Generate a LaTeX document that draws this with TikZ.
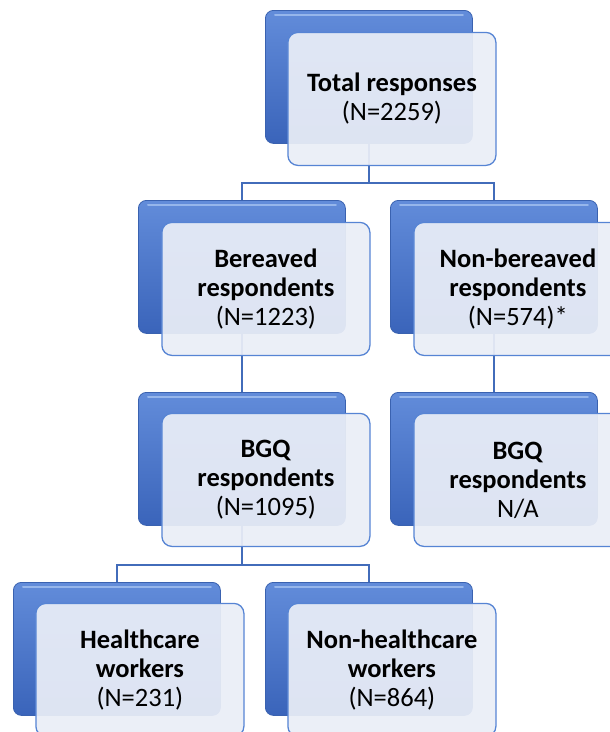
\documentclass[tikz,border=0pt]{standalone}
\usepackage{fontspec}
\setmainfont{Carlito}
\usetikzlibrary{backgrounds,calc}
\definecolor{linkblue}{RGB}{66,108,186}
\definecolor{backtop}{RGB}{98,140,218}
\definecolor{backmid}{RGB}{74,118,204}
\definecolor{backbot}{RGB}{58,100,186}
\definecolor{backedge}{RGB}{58,98,176}
\definecolor{backhi}{RGB}{150,182,235}
\definecolor{frontfill}{RGB}{234,238,247}
\definecolor{frontedge}{RGB}{86,132,212}
\tikzset{
  backbox/.style={rectangle, rounded corners=8pt, minimum width=207pt, minimum height=133pt,
    anchor=north west, top color=backtop, middle color=backmid, bottom color=backbot,
    draw=backedge, line width=0.8pt, inner sep=0pt},
  frontbox/.style={rectangle, rounded corners=10pt, minimum width=208pt, minimum height=133pt,
    fill=frontfill, fill opacity=0.93, text opacity=1, draw=frontedge, line width=1.3pt,
    align=center, inner sep=0pt, font=\fontsize{26.5}{29}\selectfont},
  hiline/.style={draw=backhi, line width=2pt, line cap=round},
  link/.style={draw=linkblue, line width=2pt}
}
\begin{document}
\begin{tikzpicture}[x=1pt,y=-1pt]
\useasboundingbox (0,0) rectangle (610,732);
\clip (0,0) rectangle (610,732);
% back boxes
\node[backbox] (b0) at (265,10) {};
\node[backbox] (b1) at (138,200) {};
\node[backbox] (b2) at (390,200) {};
\node[backbox] (b3) at (138,392) {};
\node[backbox] (b4) at (390,392) {};
\node[backbox] (b5) at (13,582) {};
\node[backbox] (b6) at (265,582) {};
% glossy highlights along the top edge of each back box
\foreach \b in {b0,b1,b2,b3,b4,b5,b6}{
  \draw[hiline] ($(\b.north west)+(10,5)$) -- ($(\b.north east)+(-10,5)$);
}
% front boxes
\node[frontbox] (f0) at ($(b0.center)+(23,22)$) {\textbf{Total responses}\\(N=2259)};
\node[frontbox] (f1) at ($(b1.center)+(24,22)$) {\textbf{Bereaved}\\\textbf{respondents}\\(N=1223)};
\node[frontbox] (f2) at ($(b2.center)+(24,22)$) {\textbf{Non-bereaved}\\\textbf{respondents}\\(N=574)*};
\node[frontbox] (f3) at ($(b3.center)+(24,21)$) {\textbf{BGQ}\\\textbf{respondents}\\(N=1095)};
\node[frontbox] (f4) at ($(b4.center)+(24,21)$) {\textbf{BGQ}\\\textbf{respondents}\\N/A};
\node[frontbox] (f5) at ($(b5.center)+(23,21)$) {\textbf{Healthcare}\\\textbf{workers}\\(N=231)};
\node[frontbox] (f6) at ($(b6.center)+(23,21)$) {\textbf{Non-healthcare}\\\textbf{workers}\\(N=864)};
% connectors
\begin{scope}[on background layer]
\fill[white] (0,0) rectangle (610,732);
\draw[link] (b0.south) -- ++(0,39) -| (b1.north);
\draw[link] (b0.south) -- ++(0,39) -| (b2.north);
\draw[link] (b1.south) -- (b3.north);
\draw[link] (b2.south) -- (b4.north);
\draw[link] (b3.south) -- ++(0,39) -| (b5.north);
\draw[link] (b3.south) -- ++(0,39) -| (b6.north);
\end{scope}
\end{tikzpicture}
\end{document}
